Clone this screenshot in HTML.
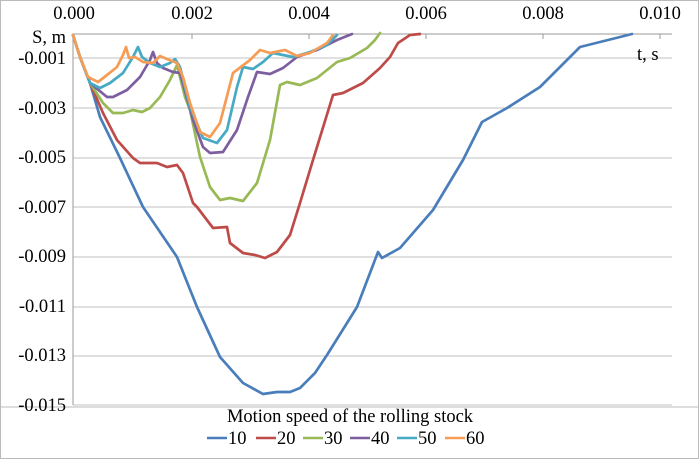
<!DOCTYPE html>
<html><head><style>body{margin:0;background:#fff}</style></head><body>
<svg width="699" height="459" xmlns="http://www.w3.org/2000/svg" style="font-family:'Liberation Serif','Times New Roman',serif;font-size:18.5px">
<rect x="0.5" y="0.5" width="698" height="458" fill="#fff" stroke="#bbb"/>
<line x1="0" y1="407" x2="699" y2="407" stroke="#bbb"/>
<g stroke="#c0c0c0" stroke-width="1">
<line x1="73" y1="58" x2="672" y2="58"/><line x1="73" y1="108" x2="672" y2="108"/>
<line x1="73" y1="158" x2="672" y2="158"/><line x1="73" y1="207" x2="672" y2="207"/>
<line x1="73" y1="257" x2="672" y2="257"/><line x1="73" y1="307" x2="672" y2="307"/>
<line x1="73" y1="356" x2="672" y2="356"/><line x1="73" y1="405" x2="672" y2="405"/>
</g>
<g stroke="#999"><line x1="73" y1="34" x2="672" y2="34"/><line x1="73" y1="34" x2="73" y2="405"/>
<line x1="192" y1="34" x2="192" y2="39"/><line x1="309" y1="34" x2="309" y2="39"/><line x1="426" y1="34" x2="426" y2="39"/><line x1="543" y1="34" x2="543" y2="39"/><line x1="660" y1="34" x2="660" y2="39"/></g>
<g text-anchor="middle" fill="#000"><text x="74" y="19">0.000</text><text x="192" y="19">0.002</text><text x="309" y="19">0.004</text><text x="426" y="19">0.006</text><text x="543" y="19">0.008</text><text x="660" y="19">0.010</text></g>
<g text-anchor="end"><text x="66" y="43">S, m</text><text x="66" y="64">-0.001</text><text x="66" y="114">-0.003</text><text x="66" y="163">-0.005</text><text x="66" y="213">-0.007</text><text x="66" y="262">-0.009</text><text x="66" y="312">-0.011</text><text x="66" y="361">-0.013</text><text x="66" y="411">-0.015</text></g>
<text x="637" y="60">t, s</text>
<g fill="none" stroke-width="2.7" stroke-linejoin="round" stroke-linecap="round">
<polyline stroke="#4a7ebb" points="73,35 80,57 90,83 100,117 120,158 143,207 177,257 197,307 220,357 243,383 263,394 277,392 290,392 300,388 315,373 327,355 357,307 378,252 382,258 400,248 433,210 463,160 482,122 507,108 540,87 580,47 632,34"/>
<polyline stroke="#be4b48" points="73,35 80,57 90,83 103,113 117,140 133,158 140,163 157,163 167,167 177,165 183,173 193,203 197,207 213,228 227,227 230,243 243,253 255,255 265,258 277,252 290,235 300,203 313,160 333,95 343,93 363,83 380,68 390,57 398,43 410,35 420,34"/>
<polyline stroke="#98b954" points="73,35 80,57 90,83 103,103 113,113 123,113 133,110 142,112 150,108 160,97 170,80 177,65 185,97 190,110 200,157 210,187 220,200 230,198 243,201 257,183 270,140 280,85 287,82 300,85 317,78 337,62 350,58 367,48 375,40 380,33"/>
<polyline stroke="#7d5fa0" points="73,35 80,57 90,83 107,97 113,97 127,90 140,77 150,60 153,52 157,63 163,68 173,72 180,73 193,120 203,147 210,153 223,152 237,130 248,97 257,72 270,74 283,68 297,57 317,50 337,40 352,34"/>
<polyline stroke="#46aac5" points="73,35 80,57 90,83 100,88 110,83 123,73 133,57 138,47 142,57 150,63 160,67 170,63 175,59 180,67 190,107 203,138 217,143 227,130 237,87 243,67 253,69 263,62 273,53 283,55 293,57 310,52 327,45 337,35"/>
<polyline stroke="#f59d56" points="73,35 80,57 88,77 98,82 107,75 117,67 123,55 126,47 129,58 135,57 143,62 153,63 160,56 167,59 177,63 183,77 190,103 200,132 210,137 220,123 233,73 250,60 260,50 270,53 285,50 297,56 310,53 327,43 333,35"/>
</g>
<text x="350" y="422" text-anchor="middle">Motion speed of the rolling stock</text>
<g stroke-width="2.5"><line x1="207" y1="438" x2="227" y2="438" stroke="#4a7ebb"/><line x1="256" y1="438" x2="276" y2="438" stroke="#be4b48"/><line x1="303" y1="438" x2="323" y2="438" stroke="#98b954"/><line x1="350" y1="438" x2="370" y2="438" stroke="#7d5fa0"/><line x1="397" y1="438" x2="417" y2="438" stroke="#46aac5"/><line x1="445" y1="438" x2="465" y2="438" stroke="#f59d56"/></g>
<g><text x="228" y="444">10</text><text x="277" y="444">20</text><text x="324" y="444">30</text><text x="371" y="444">40</text><text x="418" y="444">50</text><text x="466" y="444">60</text></g>
</svg>
</body></html>
